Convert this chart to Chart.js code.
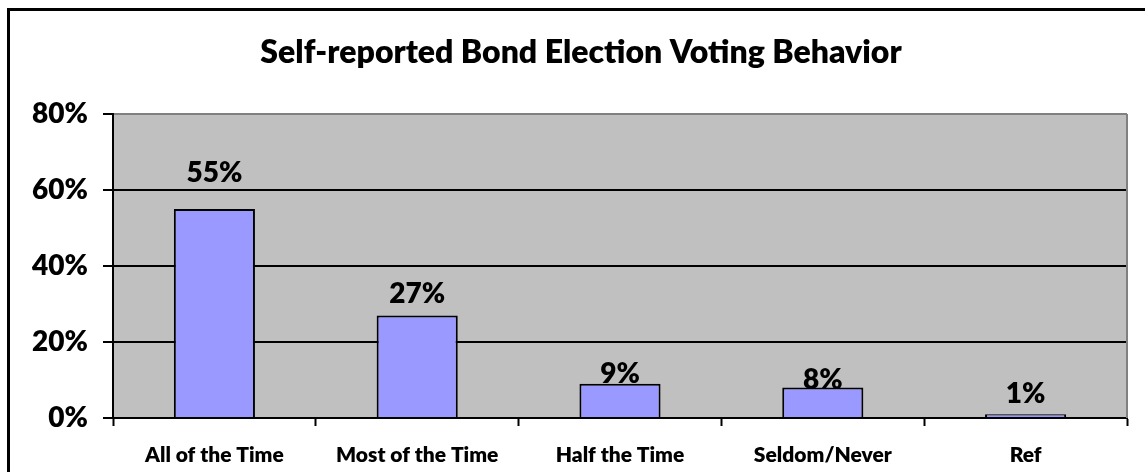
<!DOCTYPE html>
<html>
<head>
<meta charset="utf-8">
<script src="https://cdn.jsdelivr.net/npm/chart.js@4"></script>
<style>
  html, body { margin: 0; padding: 0; background: #fff; }
  #wrap { width: 1145px; height: 472px; }
</style>
</head>
<body>
<div id="wrap"><canvas id="c"></canvas></div>
<script>
'use strict';

// ── DATA ──
const categories = ['All of the Time', 'Most of the Time', 'Half the Time', 'Seldom/Never', 'Ref'];
const shares = [55, 27, 9, 8, 1];
const yTicks = [0, 20, 40, 60, 80];
const chartTitle = 'Self-reported Bond Election Voting Behavior';

const FONT = 'Lato, "Noto Sans", sans-serif';
const WEIGHT = '800';

// ── BACKGROUND, FRAME, TITLE ──
const framePlugin = {
  id: 'frame',
  beforeDraw(chart) {
    const { ctx, chartArea: a } = chart;
    ctx.save();
    ctx.fillStyle = '#C0C0C0';
    ctx.fillRect(a.left, a.top, a.right - a.left, a.bottom - a.top);
    // outer border (runs off the right / bottom edge)
    ctx.strokeStyle = '#000';
    ctx.lineWidth = 3;
    ctx.beginPath();
    ctx.moveTo(8.5, chart.height + 5);
    ctx.lineTo(8.5, 9.5);
    ctx.lineTo(chart.width + 5, 9.5);
    ctx.stroke();
    // title
    ctx.fillStyle = '#000';
    ctx.font = WEIGHT + ' 32px ' + FONT;
    ctx.textAlign = 'center';
    ctx.textBaseline = 'middle';
    ctx.fillText(chartTitle, 581, 53);
    ctx.restore();
  },
  afterDraw(chart) {
    const { ctx, chartArea: a } = chart;
    ctx.save();
    ctx.strokeStyle = '#808080';
    ctx.lineWidth = 2;
    ctx.beginPath();
    ctx.moveTo(a.right, a.top);
    ctx.lineTo(a.right, a.bottom);
    ctx.stroke();
    ctx.restore();
  }
};

// ── VALUE LABELS ──
const valueLabels = {
  id: 'valueLabels',
  afterDatasetsDraw(chart, args, opts) {
    const { ctx } = chart;
    const meta = chart.getDatasetMeta(0);
    ctx.save();
    ctx.fillStyle = '#000';
    ctx.font = WEIGHT + ' 28px ' + FONT;
    ctx.textAlign = 'center';
    ctx.textBaseline = 'alphabetic';
    meta.data.forEach((bar, i) => {
      const gap = opts.gaps[i] ?? 10;
      ctx.fillText(shares[i] + '%', bar.x, bar.y - gap);
    });
    ctx.restore();
  }
};

new Chart(document.getElementById('c'), {
  type: 'bar',
  data: {
    labels: categories,
    datasets: [{
      data: shares,
      backgroundColor: '#9999FF',
      borderColor: '#000',
      borderWidth: 2,
      barPercentage: 0.4,
      categoryPercentage: 1,
    }],
  },
  options: {
    responsive: true,
    maintainAspectRatio: false,
    animation: false,
    layout: { padding: { left: 0, top: 114, right: 18, bottom: 0 } },
    plugins: {
      legend: { display: false },
      tooltip: { enabled: false },
      valueLabels: { gaps: [27, 12, 1, -1, 11] },
    },
    scales: {
      x: {
        offset: true,
        grid: {
          offset: true,
          drawOnChartArea: false,
          drawTicks: true,
          tickLength: 8,
          tickWidth: 2,
          tickColor: '#000',
        },
        border: { color: '#000', width: 2 },
        ticks: {
          color: '#000',
          font: { family: FONT, size: 21, weight: WEIGHT },
          padding: 17,
          maxRotation: 0,
        },
        afterFit(scale) { scale.height = 54; },
      },
      y: {
        min: 0,
        max: 80,
        afterBuildTicks(scale) { scale.ticks = yTicks.map(v => ({ value: v })); },
        grid: {
          color: ctx => (ctx.tick && ctx.tick.value === 80 ? '#808080' : '#000'),
          lineWidth: 2,
          tickLength: 10,
          tickColor: '#000',
          tickWidth: 2,
        },
        border: { color: '#000', width: 2 },
        ticks: {
          color: '#000',
          font: { family: FONT, size: 28, weight: WEIGHT },
          padding: 15,
          callback: v => v + '%',
        },
        afterFit(scale) { scale.width = 113; },
      },
    },
  },
  plugins: [framePlugin, valueLabels],
});
</script>
</body>
</html>
